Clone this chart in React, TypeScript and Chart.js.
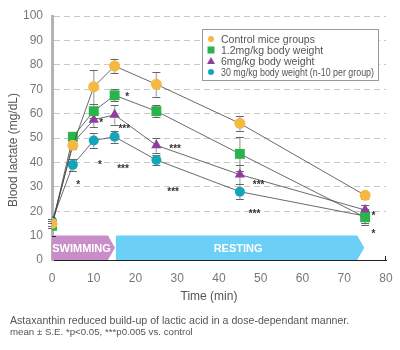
import React, { useEffect, useRef } from "react";
import { Chart, registerables } from "chart.js";
Chart.register(...registerables);

const times = [0, 5, 10, 15, 25, 45, 75];
const seriesLabels = [
  "Control mice groups",
  "1.2mg/kg body weight",
  "6mg/kg body weight",
  "30 mg/kg body weight (n-10 per group)",
];
const controlValues = [15, 47, 71, 79.5, 72, 56, 26.5];
const controlErr = [1, 1.5, 7, 3, 5, 3, 1.5];
const low12Values = [14, 50.5, 61, 67.5, 61, 43.5, 17.5];
const low12Err = [1, 1.5, 3, 2.5, 2.5, 7, 3];
const mid6Values = [14, 48, 57.5, 59.5, 47, 35, 20.5];
const mid6Err = [1, 2, 3, 4, 3, 4, 2];
const high30Values = [16, 39, 49, 50.5, 41, 28, 18];
const high30Err = [1, 2.5, 3, 2.5, 2, 3, 3];

const phaseLabels = ["SWIMMING", "RESTING"];
const phaseStart = [0, 15.3];
const phaseEnd = [13.4, 73.1];
const phaseTip = [15.1, 74.8];
const phaseTop = 10;

const starTexts = ["*", "*", "***", "*", "***", "*", "***", "***", "***", "***", "*", "*"];
const starX = [18, 11.8, 17.3, 11.5, 17, 6.3, 29.5, 29, 49.5, 48.5, 77, 77];
const starY = [67.5, 57, 54.5, 39.5, 38, 31.5, 46.3, 28.7, 31.4, 19.7, 18.8, 11.5];

const xTicks = [0, 10, 20, 30, 40, 50, 60, 70, 80];
const xTitle = "Time (min)";
const yTitle = "Blood lactate (mg/dL)";

const colors = ["#f5b942", "#2bb34c", "#8e3f9c", "#15a5b8"];
const shapes = ["circle", "rect", "triangle", "circle"];
const radii = [5.5, 7, 6, 5];

const FONT = "'Liberation Sans', Arial, sans-serif";

export default function App() {
  const ref = useRef<HTMLCanvasElement>(null);
  useEffect(() => {
    const values = [controlValues, low12Values, mid6Values, high30Values];
    const errs = [controlErr, low12Err, mid6Err, high30Err];

    const bgPlugin = {
      id: "phases",
      beforeDatasetsDraw(chart: any) {
        const { ctx, scales } = chart;
        const xs = scales.x, ys = scales.y;
        const y0 = ys.getPixelForValue(0);
        const y1 = ys.getPixelForValue(phaseTop);
        const ym = (y0 + y1) / 2;
        const fills = ["#c98ec8", "#6ccff5"];
        ctx.save();
        for (let i = 0; i < phaseLabels.length; i++) {
          const xa = xs.getPixelForValue(phaseStart[i]);
          const xb = xs.getPixelForValue(phaseEnd[i]);
          const xt = xs.getPixelForValue(phaseTip[i]);
          ctx.fillStyle = fills[i];
          ctx.beginPath();
          ctx.moveTo(xa, y1);
          ctx.lineTo(xb, y1);
          ctx.lineTo(xt, ym);
          ctx.lineTo(xb, y0);
          ctx.lineTo(xa, y0);
          ctx.closePath();
          ctx.fill();
          ctx.fillStyle = "#fff";
          ctx.font = "bold 11px " + FONT;
          ctx.textAlign = "center";
          ctx.textBaseline = "middle";
          ctx.fillText(phaseLabels[i], (xa + xt) / 2 - 2, ym + 1);
        }
        // short y tick at 10, end tick at x max
        ctx.strokeStyle = "#222";
        ctx.lineWidth = 1;
        ctx.beginPath();
        ctx.moveTo(xs.left, Math.round(y1) + 0.5);
        ctx.lineTo(xs.left + 4, Math.round(y1) + 0.5);
        const xr = Math.round(xs.right) - 0.5;
        ctx.moveTo(xr, y0);
        ctx.lineTo(xr, y0 - 4);
        ctx.stroke();
        // error bars
        for (let d = 0; d < values.length; d++) {
          for (let k = 0; k < times.length; k++) {
            const x = xs.getPixelForValue(times[k]);
            const yt = ys.getPixelForValue(values[d][k] + errs[d][k]);
            const yb = ys.getPixelForValue(values[d][k] - errs[d][k]);
            ctx.strokeStyle = "#b5b5b5";
            ctx.lineWidth = 1.5;
            ctx.beginPath();
            ctx.moveTo(x, yt);
            ctx.lineTo(x, yb);
            ctx.stroke();
            ctx.strokeStyle = "#666";
            ctx.lineWidth = 1;
            ctx.beginPath();
            ctx.moveTo(x - 4, Math.round(yt) + 0.5);
            ctx.lineTo(x + 4, Math.round(yt) + 0.5);
            ctx.moveTo(x - 4, Math.round(yb) + 0.5);
            ctx.lineTo(x + 4, Math.round(yb) + 0.5);
            ctx.stroke();
          }
        }
        ctx.restore();
      },
      afterDraw(chart: any) {
        const { ctx, scales } = chart;
        const xs = scales.x, ys = scales.y;
        ctx.save();
        // axis titles
        ctx.fillStyle = "#555";
        ctx.font = "12px " + FONT;
        ctx.textAlign = "center";
        ctx.textBaseline = "middle";
        ctx.fillText(xTitle, 209, 297);
        ctx.save();
        ctx.translate(14, 150);
        ctx.rotate(-Math.PI / 2);
        ctx.fillText(yTitle, 0, 0);
        ctx.restore();
        // significance marks
        ctx.fillStyle = "#333";
        ctx.font = "bold 10px " + FONT;
        for (let i = 0; i < starTexts.length; i++) {
          ctx.fillText(starTexts[i], xs.getPixelForValue(starX[i]), ys.getPixelForValue(starY[i]) + 2);
        }
        // legend
        const lx = 202, ly = 29, lw = 176, lh = 51;
        ctx.fillStyle = "#fff";
        ctx.fillRect(lx, ly, lw, lh);
        ctx.strokeStyle = "#9a9a9a";
        ctx.lineWidth = 1;
        ctx.strokeRect(lx + 0.5, ly + 0.5, lw, lh);
        ctx.font = "10.5px " + FONT;
        ctx.textAlign = "left";
        for (let i = 0; i < seriesLabels.length; i++) {
          const cy = ly + 10 + i * 11;
          const cx = lx + 9;
          ctx.fillStyle = colors[i];
          ctx.beginPath();
          if (shapes[i] === "circle") {
            ctx.arc(cx, cy, 3, 0, Math.PI * 2);
          } else if (shapes[i] === "rect") {
            ctx.rect(cx - 3.5, cy - 3.5, 7, 7);
          } else {
            ctx.moveTo(cx, cy - 4);
            ctx.lineTo(cx + 4, cy + 3);
            ctx.lineTo(cx - 4, cy + 3);
            ctx.closePath();
          }
          ctx.fill();
          ctx.fillStyle = "#555";
          ctx.fillText(seriesLabels[i], lx + 19, cy + 1, lw - 23);
        }
        ctx.restore();
      },
    };

    const chart = new Chart(ref.current!, {
      type: "line",
      data: {
        datasets: values.map((v, i) => ({
          label: seriesLabels[i],
          data: v.map((y, k) => ({ x: times[k], y })),
          borderColor: "#444",
          borderWidth: 0.8,
          backgroundColor: colors[i],
          pointBackgroundColor: colors[i],
          pointBorderWidth: 0,
          pointStyle: shapes[i] as any,
          pointRadius: radii[i],
          tension: 0,
        })),
      },
      options: {
        animation: false,
        responsive: false,
        events: [],
        layout: { padding: { top: 16, right: 14, left: 0, bottom: 45 } },
        plugins: { legend: { display: false }, tooltip: { enabled: false } },
        scales: {
          x: {
            type: "linear",
            min: 0,
            max: 80,
            afterBuildTicks: (s: any) => {
              s.ticks = xTicks.map((v) => ({ value: v }));
            },
            afterFit: (s: any) => {
              s.height = 45;
              s.paddingRight = 0;
              s.paddingLeft = 0;
            },
            grid: { display: false, drawTicks: false },
            border: { display: true, color: "#222", width: 1 },
            ticks: { color: "#777", font: { family: FONT, size: 12 }, padding: 11 },
          },
          y: {
            min: 0,
            max: 100,
            afterFit: (s: any) => {
              s.width = 52;
              s.paddingTop = 0;
              s.paddingBottom = 0;
            },
            ticks: { stepSize: 10, color: "#777", font: { family: FONT, size: 12 }, padding: 9 },
            grid: {
              color: (c: any) => (c.tick && c.tick.value > 10 ? "#c8c8c8" : "rgba(0,0,0,0)"),
              lineWidth: 1,
              drawTicks: false,
            },
            border: { display: true, color: "#b3b3b3", width: 3, dash: [6, 4] as any },
          },
        },
      },
      plugins: [bgPlugin],
    } as any);
    return () => chart.destroy();
  }, []);

  return (
    <div style={{ position: "fixed", left: 0, top: 0, width: 400, height: 350, background: "#fff" }}>
      <canvas ref={ref} width={400} height={350} style={{ position: "absolute", left: 0, top: 0 }} />
      <div
        style={{
          position: "absolute",
          left: 10,
          top: 314,
          fontFamily: FONT,
          color: "#555",
          lineHeight: "12px",
          whiteSpace: "nowrap",
        }}
      >
        <div style={{ fontSize: 10.6 }}>Astaxanthin reduced build-up of lactic acid in a dose-dependant manner.</div>
        <div style={{ fontSize: 9.7 }}>mean ± S.E. *p&lt;0.05, ***p0.005 vs. control</div>
      </div>
    </div>
  );
}
